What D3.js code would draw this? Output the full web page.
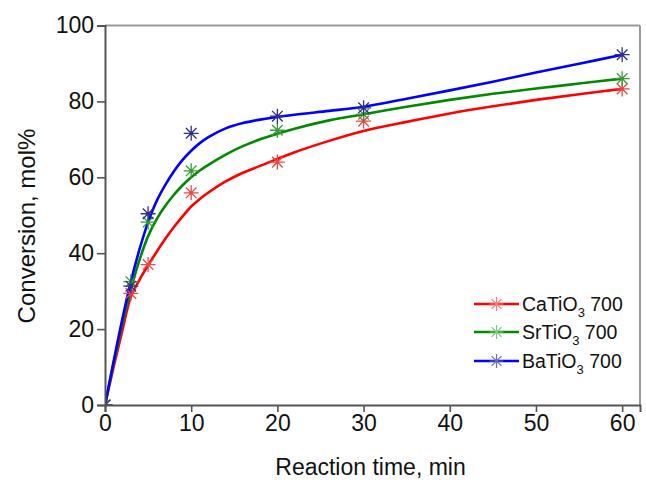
<!DOCTYPE html>
<html>
<head>
<meta charset="utf-8">
<script src="https://cdn.jsdelivr.net/npm/d3@7"></script>
<style>
  body { margin: 0; background: #fff; }
  text { font-family: "Liberation Sans", Arial, sans-serif; fill: #111; }
</style>
</head>
<body>
<svg id="chart" width="646" height="483"></svg>
<script>
// Measured conversion at each sampling time (min)
const times = [0, 3, 5, 10, 20, 30, 60];
const caTiO3 = [0, 29.4, 37.0, 55.9, 64.0, 74.8, 83.3];
const srTiO3 = [0, 32.5, 48.2, 61.7, 72.4, 76.6, 86.0];
const baTiO3 = [0, 31.3, 50.4, 71.6, 76.1, 78.3, 92.3];

// Smoothed kinetic curves through the measurements
const fitTimes = [0, 1, 2, 3, 4, 5, 6, 7, 8, 9, 10, 11, 12, 14, 16, 18, 22, 26, 30, 35, 40, 45, 50, 55, 60];
const caFit = [0, 10.0, 19.5, 28.5, 33.0, 36.8, 40.4, 43.8, 46.9, 49.7, 52.3, 54.3, 56.0, 58.9, 61.2, 63.0, 66.6, 69.6, 72.2, 74.6, 76.8, 78.7, 80.4, 81.9, 83.3];
const srFit = [0, 11.0, 21.5, 30.5, 38.2, 44.5, 49.0, 52.5, 55.4, 57.9, 60.0, 61.8, 63.3, 66.0, 68.2, 70.0, 72.8, 75.0, 76.6, 78.6, 80.4, 82.0, 83.4, 84.7, 86.0];
const baFit = [0, 11.5, 22.5, 32.5, 41.0, 48.2, 53.8, 58.0, 61.6, 64.6, 67.0, 69.0, 70.6, 72.9, 74.3, 75.2, 76.5, 77.5, 78.6, 80.7, 82.9, 85.2, 87.6, 89.9, 92.3];

const seriesNames = ["CaTiO3 700", "SrTiO3 700", "BaTiO3 700"];
const xTicks = [0, 10, 20, 30, 40, 50, 60];
const yTicks = [0, 20, 40, 60, 80, 100];

const series = [
  { label: ["CaTiO", "3", " 700"], pts: caTiO3, fit: caFit, line: "#ff0000", mark: "#e84848", legendMark: "#ff7a7a" },
  { label: ["SrTiO", "3", " 700"], pts: srTiO3, fit: srFit, line: "#008a00", mark: "#3a9a3a", legendMark: "#7cc87c" },
  { label: ["BaTiO", "3", " 700"], pts: baTiO3, fit: baFit, line: "#0000ff", mark: "#2e2e8c", legendMark: "#6a6ab8" }
];

const svg = d3.select("#chart");
const plotL = 105, plotR = 640, plotT = 25.5, plotB = 405;

const x = d3.scaleLinear().domain([0, 62.07]).range([plotL, plotR]);
const y = d3.scaleLinear().domain([0, 100]).range([plotB, plotT]);

svg.append("defs").append("clipPath").attr("id", "plot-clip")
  .append("rect").attr("x", plotL).attr("y", plotT).attr("width", plotR - plotL).attr("height", plotB - plotT);

// Frame: light top/right border
svg.append("line").attr("x1", plotL).attr("x2", plotR).attr("y1", plotT).attr("y2", plotT)
  .attr("stroke", "#9a9a9a").attr("stroke-width", 2);
svg.append("line").attr("x1", plotR).attr("x2", plotR).attr("y1", plotT).attr("y2", plotB)
  .attr("stroke", "#9a9a9a").attr("stroke-width", 2);

// Fitted curves
const line = d3.line().x(d => x(d[0])).y(d => y(d[1])).curve(d3.curveCatmullRom.alpha(0.5));
const plot = svg.append("g").attr("clip-path", "url(#plot-clip)");
series.forEach(s => {
  plot.append("path").datum(fitTimes.map((t, i) => [t, s.fit[i]]))
    .attr("d", line).attr("fill", "none").attr("stroke", s.line).attr("stroke-width", 2.6)
    .attr("stroke-linejoin", "round").attr("stroke-linecap", "round");
});

// Asterisk marker path centred at 0,0
function asterisk(r) {
  const d = r * Math.SQRT1_2;
  return `M${-r},0L${r},0M0,${-r}L0,${r}M${-d},${-d}L${d},${d}M${-d},${d}L${d},${-d}`;
}

series.forEach(s => {
  const g = plot.append("g");
  g.selectAll("g").data(times.map((t, i) => [t, s.pts[i]])).join("g")
    .attr("transform", d => `translate(${x(d[0])},${y(d[1])})`)
    .each(function () {
      d3.select(this).append("path").attr("d", asterisk(7.5))
        .attr("stroke", s.mark).attr("stroke-width", 1.3).attr("fill", "none");
      d3.select(this).append("circle").attr("r", 1.6).attr("fill", s.mark);
    });
});

// Axes
const xAxis = svg.append("g").attr("transform", `translate(0,${plotB})`)
  .call(d3.axisBottom(x).tickValues(xTicks).tickSize(7).tickPadding(3).tickFormat(d3.format("d")));
const yAxis = svg.append("g").attr("transform", `translate(${plotL},0)`)
  .call(d3.axisLeft(y).tickValues(yTicks).tickSize(8).tickPadding(3).tickFormat(d3.format("d")));

[xAxis, yAxis].forEach(g => {
  g.select(".domain").attr("stroke", "#555").attr("stroke-width", 2);
  g.selectAll(".tick line").attr("stroke", "#555").attr("stroke-width", 1.6);
  g.selectAll(".tick text").style("font-family", "Liberation Sans, Arial, sans-serif")
    .style("font-size", "23px").attr("fill", "#111");
});

// Axis titles
svg.append("text").attr("x", (plotL + plotR) / 2 - 2).attr("y", 475)
  .attr("text-anchor", "middle").style("font-size", "23px").text("Reaction time, min");
svg.append("text").attr("transform", "translate(35,226) rotate(-90)")
  .attr("text-anchor", "middle").style("font-size", "24px").text("Conversion, mol%");

// Legend
const legendX = 474, legendY = [304, 332, 361];
series.forEach((s, i) => {
  const ly = legendY[i];
  svg.append("line").attr("x1", legendX).attr("x2", legendX + 45).attr("y1", ly).attr("y2", ly)
    .attr("stroke", s.line).attr("stroke-width", 2.4);
  svg.append("path").attr("transform", `translate(${legendX + 22.5},${ly})`)
    .attr("d", asterisk(7)).attr("stroke", s.legendMark).attr("stroke-width", 1.2).attr("fill", "none");
  const t = svg.append("text").attr("x", legendX + 48).attr("y", ly + 7).style("font-size", "19.5px");
  t.append("tspan").text(s.label[0]);
  t.append("tspan").attr("dy", 6).style("font-size", "13px").text(s.label[1]);
  t.append("tspan").attr("dy", -6).text(s.label[2]);
});
</script>
</body>
</html>
